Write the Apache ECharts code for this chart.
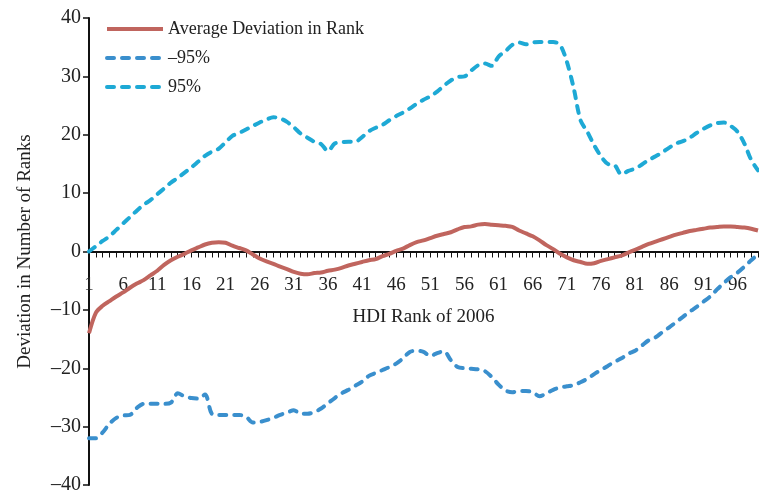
<!DOCTYPE html>
<html>
<head>
<meta charset="utf-8">
<script src="https://cdn.jsdelivr.net/npm/echarts@6/dist/echarts.min.js"></script>
<style>
  html, body { margin: 0; padding: 0; background: #fff; }
  #chart { width: 759px; height: 493px; }
</style>
</head>
<body>
<div id="chart"></div>
<script>
// HDI rank 1..99
const ranks = Array.from({ length: 99 }, (_, i) => String(i + 1))

const avgDeviation = [
  -14, -10.5, -9.3, -8.5, -7.7, -7, -6.2, -5.5, -4.9, -4.1,
  -3.3, -2.3, -1.5, -0.9, -0.4, 0.2, 0.7, 1.2, 1.5, 1.6,
  1.5, 1.0, 0.6, 0.2, -0.5, -1.2, -1.7, -2.1, -2.6, -3.0,
  -3.5, -3.8, -3.9, -3.7, -3.6, -3.3, -3.1, -2.8, -2.4, -2.1,
  -1.8, -1.5, -1.3, -0.8, -0.4, 0.1, 0.5, 1.1, 1.6, 1.9,
  2.3, 2.7, 3.0, 3.3, 3.8, 4.2, 4.3, 4.6, 4.7, 4.6,
  4.5, 4.4, 4.2, 3.6, 3.1, 2.6, 1.9, 1.1, 0.4, -0.4,
  -1.0, -1.5, -1.8, -2.1, -2.0, -1.6, -1.3, -1.0, -0.7, -0.2,
  0.3, 0.8, 1.3, 1.7, 2.1, 2.5, 2.9, 3.2, 3.5, 3.7,
  3.9, 4.1, 4.2, 4.3, 4.3, 4.2, 4.1, 3.9, 3.6
]

const lower95 = [
  -32, -32, -31, -29.5, -28.5, -28.1, -28, -26.8, -26.1, -26.1,
  -26.1, -26.1, -25.9, -24.3, -24.8, -25.1, -25.2, -24.5, -27.8, -28,
  -28, -28, -28, -28.3, -29.3, -29.2, -28.9, -28.5, -28, -27.6,
  -27.2, -27.8, -27.8, -27.5, -26.9, -26, -25.1, -24.3, -23.7, -23,
  -22.3, -21.3, -20.8, -20.3, -19.8, -19.2, -18.3, -17.2, -17, -17.2,
  -17.9, -17.4, -17.1, -18.6, -19.8, -20, -20.1, -20.2, -20.5, -21.5,
  -22.8, -23.8, -24.1, -23.9, -23.9, -24.1, -24.8, -24.3, -23.7, -23.3,
  -23.1, -22.9, -22.4, -21.8, -21, -20.3, -19.6, -18.9, -18.3, -17.5,
  -17, -16.1, -15.2, -14.7, -13.8, -13, -12.1, -11.2, -10.3, -9.5,
  -8.6, -7.7, -6.5, -5.4, -4.4, -3.6, -2.6, -1.5, -0.5
]

const upper95 = [
  0, 0.9, 1.8, 2.6, 3.7, 4.8, 5.9, 7, 8, 8.8,
  9.8, 10.8, 11.8, 12.6, 13.5, 14.4, 15.4, 16.4, 17.1, 17.6,
  18.7, 19.8, 20.3, 20.9, 21.5, 22.1, 22.6, 23, 22.8, 22.2,
  21.3, 20.2, 19.5, 18.8, 18.4, 17.2, 18.5, 18.7, 18.8, 18.8,
  19.6, 20.6, 21.2, 21.7, 22.5, 23.2, 23.8, 24.5, 25.3, 26,
  26.6, 27.4, 28.4, 29.3, 29.9, 30, 31, 31.9, 32.2, 31.8,
  33.4, 34.3, 35.4, 35.8, 35.5, 35.8, 35.9, 35.9, 35.9, 35.4,
  32.5, 28, 22.5, 20.5, 18.2, 16.3, 15, 14.8, 13.2, 13.8,
  14.2, 14.9, 15.7, 16.3, 17, 17.8, 18.5, 18.9, 19.5, 20.3,
  21, 21.6, 22, 22.1, 21.5, 20.5, 18.5, 15.7, 13.9
]

const serif = '"Liberation Serif", "DejaVu Serif", serif'
const ink = '#222'

// plot area: y=40 at top 18, y=-40 at 485 -> zero line half way
const gridTop = 18
const gridBottom = 8
const plotH = 493 - gridTop - gridBottom

const chart = echarts.init(document.getElementById('chart'))

chart.setOption({
  animation: false,
  textStyle: { fontFamily: serif, color: ink },
  grid: { left: 89, right: 1, top: gridTop, bottom: gridBottom, containLabel: false, outerBoundsMode: 'none' },
  legend: {
    orient: 'vertical',
    left: 100,
    top: 15,
    itemGap: 11,
    itemWidth: 56,
    itemHeight: 18,
    itemStyle: { opacity: 0 },
    lineStyle: { width: 4 },
    textStyle: { fontFamily: serif, fontSize: 18, color: ink },
    data: ['Average Deviation in Rank', '\u201395%', '95%']
  },
  xAxis: {
    type: 'category',
    data: ranks,
    boundaryGap: false,
    // move the whole axis (line, ticks, labels, name) up to the zero line
    offset: -plotH / 2,
    name: 'HDI Rank of 2006',
    nameLocation: 'middle',
    nameGap: 56,
    nameTextStyle: { fontFamily: serif, fontSize: 19, color: ink },
    axisLine: { onZero: false, lineStyle: { color: '#111', width: 2 } },
    axisTick: { show: true, interval: 0, length: 6, lineStyle: { color: '#111', width: 1 } },
    axisLabel: { interval: 4, margin: 24, fontFamily: serif, fontSize: 19, color: ink },
    splitLine: { show: false }
  },
  yAxis: {
    type: 'value',
    min: -40,
    max: 40,
    interval: 10,
    name: 'Deviation in Number of Ranks',
    nameLocation: 'middle',
    nameGap: 54,
    nameRotate: 90,
    nameTextStyle: { fontFamily: serif, fontSize: 19, color: ink },
    axisLine: { show: true, lineStyle: { color: '#111', width: 2 } },
    axisTick: { show: true, length: 6, lineStyle: { color: '#111', width: 1.5 } },
    axisLabel: {
      margin: 8,
      fontFamily: serif,
      fontSize: 20,
      color: ink,
      formatter: v => String(v).replace('-', '\u2013')
    },
    splitLine: { show: false }
  },
  series: [
    {
      name: 'Average Deviation in Rank',
      type: 'line',
      data: avgDeviation,
      showSymbol: false,
      symbol: 'none',
      smooth: 0.3,
      color: '#c0655e',
      lineStyle: { width: 4, color: '#c0655e' },
      z: 3
    },
    {
      name: '\u201395%',
      type: 'line',
      data: lower95,
      showSymbol: false,
      symbol: 'none',
      smooth: 0.3,
      color: '#3a8fcd',
      lineStyle: { width: 4, color: '#3a8fcd', type: [7, 8], cap: 'round' },
      z: 2
    },
    {
      name: '95%',
      type: 'line',
      data: upper95,
      showSymbol: false,
      symbol: 'none',
      smooth: 0.3,
      color: '#1ea9d5',
      lineStyle: { width: 4, color: '#1ea9d5', type: [7, 8], cap: 'round' },
      z: 2
    }
  ]
})
</script>
</body>
</html>
